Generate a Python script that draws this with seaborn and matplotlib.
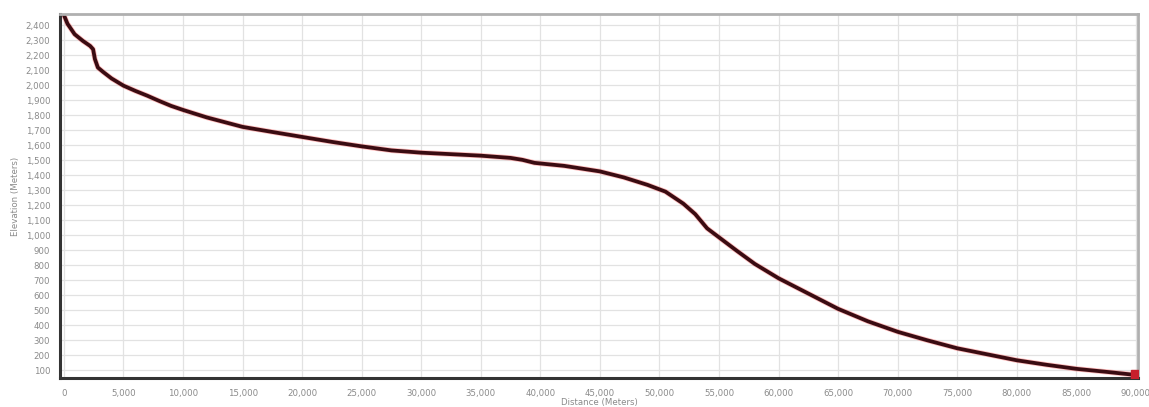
import numpy as np
import pandas as pd
import matplotlib.pyplot as plt
import seaborn as sns
from matplotlib.ticker import FuncFormatter

sns.set_style("whitegrid")
plt.rcParams["font.family"] = ["DejaVu Sans"]

# elevation profile
distance_m = [0, 300, 900, 1600, 2200, 2450, 2600, 2850, 3300, 4000, 5000,
              6000, 7000, 8000, 9000, 10000, 12000, 15000, 17500, 20000,
              22500, 25000, 27500, 30000, 32500, 35000, 37500, 38500, 39500,
              42000, 45000, 47000, 49000, 50500, 52000, 53000, 54000, 55000,
              56500, 58000, 60000, 62500, 65000, 67500, 70000, 72500, 75000,
              77500, 80000, 82500, 85000, 87500, 90000]
elevation_m = [2468, 2410, 2340, 2295, 2262, 2240, 2175, 2118, 2088, 2045, 1997,
               1962, 1930, 1895, 1862, 1835, 1785, 1722, 1688, 1655,
               1622, 1592, 1565, 1550, 1540, 1530, 1515, 1502, 1482,
               1462, 1425, 1385, 1335, 1290, 1210, 1140, 1045, 985,
               895, 808, 712, 610, 508, 425, 355, 298, 245,
               205, 165, 135, 108, 88, 67]

x_ticks = list(range(0, 90001, 5000))
y_ticks = list(range(100, 2401, 100))

df = pd.DataFrame({"Distance": distance_m, "Elevation": elevation_m})

fig = plt.figure(figsize=(11.49, 4.07), dpi=100)
ax = fig.add_axes([0.0522, 0.0713, 0.9382, 0.8943])

sns.lineplot(data=df, x="Distance", y="Elevation", ax=ax,
             color="#ff4040", linewidth=3.8, alpha=0.35)
sns.lineplot(data=df, x="Distance", y="Elevation", ax=ax,
             color="#3a0c12", linewidth=2.7)
ax.plot(distance_m[-1], elevation_m[-1], marker="s", markersize=7,
        color="#c8202c", zorder=5)

ax.set_xlim(-330, 90170)
ax.set_ylim(47, 2475)
ax.set_xticks(x_ticks)
ax.set_yticks(y_ticks)
fmt = FuncFormatter(lambda v, p: f"{int(v):,}")
ax.xaxis.set_major_formatter(fmt)
ax.yaxis.set_major_formatter(fmt)

ax.tick_params(axis="both", length=0, labelsize=6.2, labelcolor="#8a8a8a")
ax.tick_params(axis="x", pad=8)
ax.tick_params(axis="y", pad=7)

ax.grid(True, color="#e2e2e2", linewidth=0.9)
ax.set_xlabel("Distance (Meters)", fontsize=6.2, color="#8a8a8a", labelpad=0)
ax.set_ylabel("Elevation (Meters)", fontsize=6.2, color="#8a8a8a", labelpad=4)

for side in ["left", "bottom"]:
    ax.spines[side].set_color("#333333")
    ax.spines[side].set_linewidth(2.2)
for side in ["top", "right"]:
    ax.spines[side].set_color("#b0b0b0")
    ax.spines[side].set_linewidth(2.0)

fig.savefig("out.png", dpi=100)
